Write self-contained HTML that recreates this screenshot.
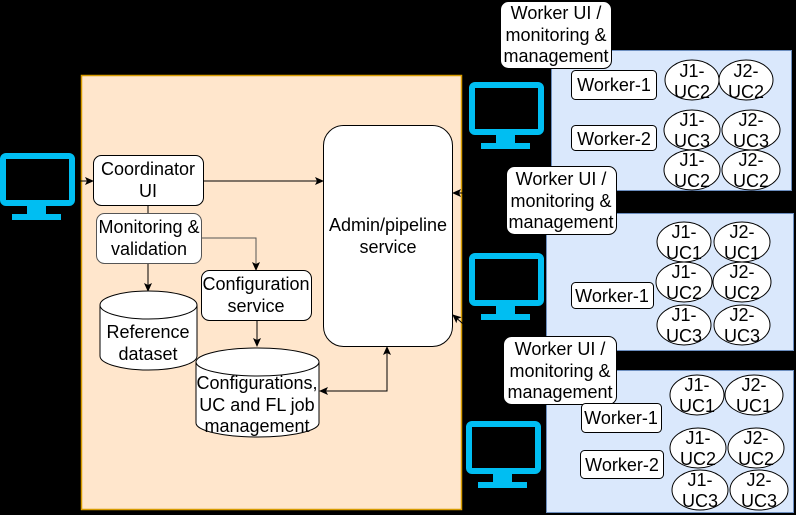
<!DOCTYPE html>
<html><head><meta charset="utf-8"><style>
html,body{margin:0;padding:0;background:#000;}
svg{display:block;}
text{font-family:"Liberation Sans",sans-serif;font-size:18px;fill:#000;text-anchor:middle;}
</style></head><body>
<svg width="796" height="515" viewBox="0 0 796 515" xmlns="http://www.w3.org/2000/svg">
<defs>
<marker id="a" markerWidth="10" markerHeight="10" refX="8" refY="5" orient="auto" markerUnits="userSpaceOnUse"><path d="M0,1 L9,5 L0,9 L2,5 Z" fill="#000"/></marker>
<marker id="as" markerWidth="10" markerHeight="10" refX="1" refY="5" orient="auto" markerUnits="userSpaceOnUse"><path d="M9,1 L0,5 L9,9 L7,5 Z" fill="#000"/></marker>
<g id="mon">
<rect x="3" y="3" width="69" height="47" rx="3" fill="#000" stroke="#00bef2" stroke-width="6"/>
<rect x="27" y="53" width="19" height="8" fill="#00bef2"/>
<rect x="12" y="61" width="49" height="6" fill="#00bef2"/>
</g>
</defs>
<rect width="796" height="515" fill="#000"/>
<rect x="81.5" y="75.5" width="380" height="434" fill="#ffe6cc" stroke="#d79b00" stroke-width="1.5"/>
<use href="#mon" x="0" y="153"/>
<use href="#mon" x="469" y="82"/>
<use href="#mon" x="469" y="253"/>
<use href="#mon" x="466" y="421"/>

<line x1="75" y1="181" x2="93" y2="181" stroke="#000" marker-end="url(#a)"/>
<line x1="203" y1="181" x2="323" y2="181" stroke="#000" marker-end="url(#a)"/>
<line x1="148" y1="205" x2="148" y2="213" stroke="#000"/>
<line x1="148" y1="263" x2="148" y2="291" stroke="#000" marker-end="url(#a)"/>
<polyline points="201,238 256,238 256,270" fill="none" stroke="#555" marker-end="url(#a)"/>
<line x1="257" y1="320" x2="257" y2="346" stroke="#000" marker-end="url(#a)"/>
<polyline points="320,391 387,391 387,347" fill="none" stroke="#000" marker-end="url(#a)" marker-start="url(#as)"/>
<line x1="470" y1="193" x2="453" y2="193" stroke="#000" marker-end="url(#a)"/>
<line x1="470" y1="330" x2="453" y2="315" stroke="#000" marker-end="url(#a)"/>

<rect x="93.5" y="155.5" width="110" height="50" rx="8" fill="#fff" stroke="#000"/>
<text x="148" y="175">Coordinator</text><text x="148" y="197">UI</text>
<rect x="96.5" y="213.5" width="105" height="50" rx="8" fill="#fff" stroke="#555"/>
<text x="149" y="233">Monitoring &amp;</text><text x="149" y="255">validation</text>
<rect x="201.5" y="270.5" width="110" height="50" rx="8" fill="#fff" stroke="#000"/>
<text x="256" y="290">Configuration</text><text x="256" y="312">service</text>
<path d="M100,305 L100,356 A48.5,14 0 0 0 197,356 L197,305 A48.5,14 0 0 0 100,305 Z" fill="#fff" stroke="#000"/>
<path d="M100,305 A48.5,14 0 0 0 197,305" fill="none" stroke="#000"/>
<text x="148" y="338">Reference</text><text x="148" y="360">dataset</text>
<path d="M196,362 L196,423 A61.5,14 0 0 0 319,423 L319,362 A61.5,14 0 0 0 196,362 Z" fill="#fff" stroke="#000"/>
<path d="M196,362 A61.5,14 0 0 0 319,362" fill="none" stroke="#000"/>
<text x="257" y="389">Configurations,</text><text x="257" y="411">UC and FL job</text><text x="257" y="432">management</text>
<rect x="323.5" y="125.5" width="129" height="221" rx="20" fill="#fff" stroke="#000"/>
<text x="388" y="231">Admin/pipeline</text><text x="388" y="253">service</text>

<rect x="551.5" y="50.5" width="240" height="140" fill="#dae8fc" stroke="#6c8ebf"/>
<rect x="500.5" y="1.5" width="111" height="67" rx="8" fill="#fff" stroke="#000"/>
<text x="556" y="19">Worker UI /</text><text x="556" y="41">monitoring &amp;</text><text x="556" y="62">management</text>
<rect x="571.5" y="70.5" width="85" height="29" rx="4" fill="#fff" stroke="#000"/><text x="614" y="91">Worker-1</text>
<rect x="571.5" y="125.5" width="85" height="25" rx="4" fill="#fff" stroke="#000"/><text x="614" y="145">Worker-2</text>
<g fill="#fff" stroke="#000">
<ellipse cx="692" cy="80" rx="27" ry="20"/><ellipse cx="746" cy="80" rx="27" ry="20"/>
<ellipse cx="692" cy="130" rx="28" ry="20"/><ellipse cx="751" cy="130" rx="29" ry="20"/>
<ellipse cx="692" cy="170" rx="28" ry="20"/><ellipse cx="751" cy="170" rx="29" ry="20"/>
</g>
<text x="692" y="77">J1-</text><text x="692" y="98">UC2</text><text x="746" y="77">J2-</text><text x="746" y="98">UC2</text>
<text x="692" y="126">J1-</text><text x="692" y="147">UC3</text><text x="751" y="126">J2-</text><text x="751" y="147">UC3</text>
<text x="692" y="166">J1-</text><text x="692" y="187">UC2</text><text x="751" y="166">J2-</text><text x="751" y="187">UC2</text>

<rect x="546.5" y="213.5" width="247" height="137" fill="#dae8fc" stroke="#6c8ebf"/>
<rect x="506.5" y="166.5" width="110" height="68" rx="8" fill="#fff" stroke="#000"/>
<text x="561" y="185">Worker UI /</text><text x="561" y="207">monitoring &amp;</text><text x="561" y="228">management</text>
<rect x="571.5" y="282.5" width="82" height="26" rx="4" fill="#fff" stroke="#000"/><text x="612" y="302">Worker-1</text>
<g fill="#fff" stroke="#000">
<ellipse cx="684" cy="242" rx="27" ry="20"/><ellipse cx="742" cy="242" rx="28" ry="20"/>
<ellipse cx="684" cy="282" rx="28" ry="20"/><ellipse cx="742" cy="282" rx="29" ry="20"/>
<ellipse cx="684" cy="325" rx="27" ry="20"/><ellipse cx="742" cy="325" rx="28" ry="20"/>
</g>
<text x="684" y="238">J1-</text><text x="684" y="259">UC1</text><text x="742" y="238">J2-</text><text x="742" y="259">UC1</text>
<text x="684" y="278">J1-</text><text x="684" y="299">UC2</text><text x="742" y="278">J2-</text><text x="742" y="299">UC2</text>
<text x="684" y="321">J1-</text><text x="684" y="342">UC3</text><text x="742" y="321">J2-</text><text x="742" y="342">UC3</text>

<rect x="546.5" y="370.5" width="247" height="142" fill="#dae8fc" stroke="#6c8ebf"/>
<rect x="503.5" y="336.5" width="113" height="68" rx="8" fill="#fff" stroke="#000"/>
<text x="560" y="355">Worker UI /</text><text x="560" y="377">monitoring &amp;</text><text x="560" y="398">management</text>
<rect x="581.5" y="403.5" width="80" height="29" rx="4" fill="#fff" stroke="#000"/><text x="621" y="424">Worker-1</text>
<rect x="580.5" y="450.5" width="83" height="28" rx="4" fill="#fff" stroke="#000"/><text x="622" y="471">Worker-2</text>
<g fill="#fff" stroke="#000">
<ellipse cx="697" cy="395" rx="27" ry="20"/><ellipse cx="754" cy="395" rx="29" ry="20"/>
<ellipse cx="698" cy="448" rx="28" ry="20"/><ellipse cx="756" cy="448" rx="28" ry="20"/>
<ellipse cx="700" cy="490" rx="28" ry="20"/><ellipse cx="759" cy="490" rx="29" ry="20"/>
</g>
<text x="697" y="391">J1-</text><text x="697" y="412">UC1</text><text x="754" y="391">J2-</text><text x="754" y="412">UC1</text>
<text x="698" y="444">J1-</text><text x="698" y="465">UC2</text><text x="756" y="444">J2-</text><text x="756" y="465">UC2</text>
<text x="700" y="486">J1-</text><text x="700" y="507">UC3</text><text x="759" y="486">J2-</text><text x="759" y="507">UC3</text>
</svg>
</body></html>
